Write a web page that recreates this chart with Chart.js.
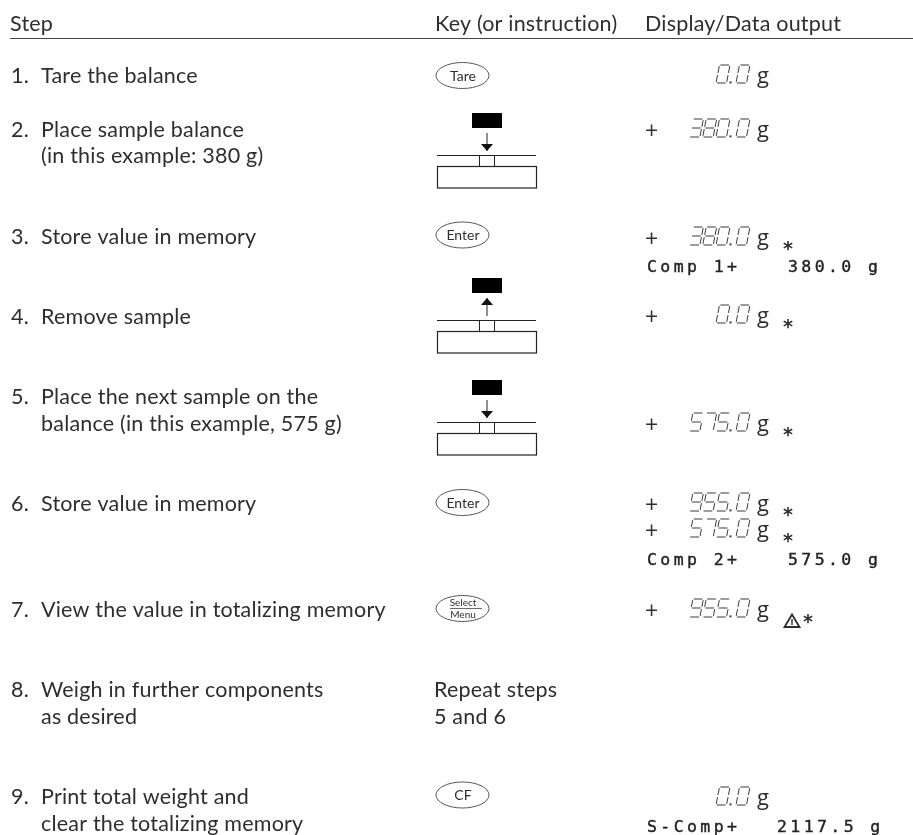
<!DOCTYPE html>
<html>
<head>
<meta charset="utf-8">
<title>Totalizing procedure</title>
<style>
  html, body { margin: 0; padding: 0; background: #fff; }
  canvas { display: block; }
</style>
<script src="https://cdn.jsdelivr.net/npm/chart.js@4"></script>
</head>
<body>
<canvas id="stepsChart" width="913" height="835"></canvas>
<script>
// table content
const headers = ['Step', 'Key (or instruction)', 'Display/Data output'];
const stepNumbers = ['1.', '2.', '3.', '4.', '5.', '6.', '7.', '8.', '9.'];
const stepLines = [
    ['Tare the balance'],
    ['Place sample balance', '(in this example: 380 g)'],
    ['Store value in memory'],
    ['Remove sample'],
    ['Place the next sample on the', 'balance (in this example, 575 g)'],
    ['Store value in memory'],
    ['View the value in totalizing memory'],
    ['Weigh in further components', 'as desired'],
    ['Print total weight and', 'clear the totalizing memory']
];
const keyLabels = ['Tare', 'Enter', 'Enter', 'CF'];
const menuKeyLabels = ['Select', 'Menu'];
const instructionLines = ['Repeat steps', '5 and 6'];
const displayValues = ['0.0', '380.0', '380.0', '0.0', '575.0', '955.0', '575.0', '955.0', '0.0'];
const displaySigns = ['', '+', '+', '+', '+', '+', '+', '+', ''];
const displayStars = [false, false, true, true, true, true, true, true, false];
const printLabels = ['Comp 1+', 'Comp 2+', 'S-Comp+'];
const printValues = ['380.0 g', '575.0 g', '2117.5 g'];

// layout, in picture pixels
const stepBaselines = [[83], [137, 163], [244], [324], [404, 431], [511], [617], [697, 724], [804, 831]];
const keyCentres = [75.5, 235, 502.5, 795];
const menuKeyCentre = 608.5;
const instructionBaselines = [697, 724];
const balanceTops = [113, 278, 380];
const balanceDirections = ['down', 'up', 'down'];
const displayBaselines = [83, 137, 245, 323, 431, 511, 537, 617, 805];
const printBaselines = [272, 565, 832];
const printValueX = [788, 788, 777];

const INK = '#2e2e2e';
const TEXT_FONT = '21.5px Lato';

// seven segment shapes, on a unit box
const segments = {
    a: [[0.08, 1], [0.92, 1]],
    b: [[1, 0.94], [1, 0.56]],
    c: [[1, 0.44], [1, 0.06]],
    d: [[0.08, 0], [0.92, 0]],
    e: [[0, 0.44], [0, 0.06]],
    f: [[0, 0.94], [0, 0.56]],
    g: [[0.08, 0.5], [0.92, 0.5]]
};
const digitSegments = {
    '0': 'abcdef', '1': 'bc', '2': 'abged', '3': 'abgcd', '4': 'fgbc',
    '5': 'afgcd', '6': 'afgedc', '7': 'abc', '8': 'abcdefg', '9': 'abcdfg'
};

function drawDisplayValue(ctx, text, rightX, base) {
    const w = 10.5, h = 18, slant = 3.5, pitch = 13.3, dotPitch = 6.7;
    let x = rightX - w - slant;
    ctx.strokeStyle = '#3a3a3a';
    ctx.fillStyle = '#3a3a3a';
    ctx.lineWidth = 1;
    for (let i = text.length - 1; i >= 0; i--) {
        const ch = text[i];
        if (ch === '.') {
            x -= dotPitch;
            ctx.fillRect(x + w + 3, base - 1.6, 2, 2);
            continue;
        }
        for (const s of digitSegments[ch]) {
            const [p, q] = segments[s];
            ctx.beginPath();
            ctx.moveTo(x + p[0] * w + p[1] * slant, base - p[1] * h);
            ctx.lineTo(x + q[0] * w + q[1] * slant, base - q[1] * h);
            ctx.stroke();
        }
        x -= pitch;
    }
}

function drawStar(ctx, cx, cy) {
    ctx.font = 'bold 19px "DejaVu Sans"';
    ctx.fillStyle = INK;
    ctx.textAlign = 'center';
    const m = ctx.measureText('*');
    const mid = (m.actualBoundingBoxAscent - m.actualBoundingBoxDescent) / 2;
    ctx.fillText('*', cx, cy + mid);
    ctx.textAlign = 'left';
}

function drawKey(ctx, cx, cy) {
    ctx.strokeStyle = '#444';
    ctx.lineWidth = 0.9;
    ctx.beginPath();
    ctx.ellipse(cx, cy, 26.5, 13, 0, 0, Math.PI * 2);
    ctx.stroke();
}

function drawBalance(ctx, px, py, top, dir) {
    const cx = px(487);
    ctx.fillStyle = '#000';
    ctx.fillRect(px(472), py(top), 30, 15);
    // arrow
    const a0 = dir === 'down' ? top + 20 : top + 38;
    const a1 = dir === 'down' ? top + 38 : top + 20;
    const head = dir === 'down' ? -7 : 7;
    ctx.strokeStyle = '#222';
    ctx.lineWidth = 1;
    ctx.beginPath();
    ctx.moveTo(cx, py(a0));
    ctx.lineTo(cx, py(a1));
    ctx.stroke();
    ctx.fillStyle = '#111';
    ctx.beginPath();
    ctx.moveTo(cx, py(a1));
    ctx.lineTo(cx - 6, py(a1 + head));
    ctx.lineTo(cx + 6, py(a1 + head));
    ctx.closePath();
    ctx.fill();
    // pan and body
    ctx.strokeStyle = '#222';
    ctx.beginPath();
    ctx.moveTo(px(437), py(top + 42.5));
    ctx.lineTo(px(536), py(top + 42.5));
    ctx.stroke();
    ctx.strokeRect(px(479.5), py(top + 42.5), 15, 11);
    ctx.lineWidth = 1.2;
    ctx.strokeRect(px(437.5), py(top + 53.5), 99, 21.5);
}

const tablePlugin = {
    id: 'tablePlugin',
    afterDatasetsDraw(chart) {
        const ctx = chart.ctx;
        const px = v => chart.scales.x.getPixelForValue(v);
        const py = v => chart.scales.y.getPixelForValue(v);
        ctx.save();
        ctx.textBaseline = 'alphabetic';
        ctx.textAlign = 'left';

        // header
        ctx.font = TEXT_FONT;
        ctx.letterSpacing = '0.2px';
        ctx.fillStyle = INK;
        ctx.fillText(headers[0], px(10), py(31));
        ctx.fillText(headers[1], px(435), py(31));
        ctx.fillText(headers[2], px(645), py(31));
        ctx.strokeStyle = '#444';
        ctx.lineWidth = 1.2;
        ctx.beginPath();
        ctx.moveTo(px(10), py(38.5));
        ctx.lineTo(px(913), py(38.5));
        ctx.stroke();

        // steps
        stepNumbers.forEach((num, i) => {
            ctx.fillText(num, px(11), py(stepBaselines[i][0]));
            stepLines[i].forEach((line, j) => {
                ctx.fillText(line, px(41), py(stepBaselines[i][j]));
            });
        });

        // instruction text
        instructionLines.forEach((line, i) => ctx.fillText(line, px(434), py(instructionBaselines[i])));
        ctx.letterSpacing = '0px';

        // keys
        keyLabels.forEach((label, i) => {
            drawKey(ctx, px(462.5), py(keyCentres[i]));
            ctx.font = '14px Lato';
            ctx.fillStyle = INK;
            ctx.textAlign = 'center';
            ctx.fillText(label, px(463), py(keyCentres[i] + 5));
            ctx.textAlign = 'left';
        });
        drawKey(ctx, px(462.5), py(menuKeyCentre));
        ctx.font = '10px Lato';
        ctx.fillStyle = INK;
        ctx.textAlign = 'center';
        ctx.fillText(menuKeyLabels[0], px(463), py(menuKeyCentre - 2.5));
        ctx.fillText(menuKeyLabels[1], px(463), py(menuKeyCentre + 9));
        ctx.textAlign = 'left';
        ctx.beginPath();
        ctx.lineWidth = 0.8;
        ctx.moveTo(px(450), py(menuKeyCentre));
        ctx.lineTo(px(482), py(menuKeyCentre));
        ctx.stroke();

        // balance sketches
        balanceTops.forEach((top, i) => drawBalance(ctx, px, py, top, balanceDirections[i]));

        // display column
        displayValues.forEach((val, i) => {
            const base = py(displayBaselines[i]);
            drawDisplayValue(ctx, val, px(750), base);
            ctx.font = '22px "Open Sans"';
            ctx.fillStyle = INK;
            ctx.fillText('g', px(757), base);
            if (displaySigns[i]) {
                ctx.font = '23px "Open Sans"';
                ctx.fillText(displaySigns[i], px(645), base + 2);
            }
            if (displayStars[i]) {
                if (i === 7) {
                    ctx.strokeStyle = INK;
                    ctx.lineWidth = 1.8;
                    ctx.beginPath();
                    ctx.moveTo(px(792), py(614.5));
                    ctx.lineTo(px(799.5), py(627));
                    ctx.lineTo(px(784.5), py(627));
                    ctx.closePath();
                    ctx.stroke();
                    ctx.fillStyle = INK;
                    ctx.fillRect(px(791.3), py(619), 1.4, 6);
                    drawStar(ctx, px(808), py(619));
                } else {
                    drawStar(ctx, px(788), py(displayBaselines[i] + 1.3));
                }
            }
        });

        // printer lines
        ctx.fillStyle = '#222';
        ctx.strokeStyle = '#222';
        ctx.lineWidth = 0.4;
        ctx.font = '16.5px "DejaVu Sans Mono"';
        ctx.letterSpacing = '3.4px';
        printLabels.forEach((label, i) => {
            const y = py(printBaselines[i]);
            ctx.fillText(label, px(647), y);
            ctx.strokeText(label, px(647), y);
            ctx.fillText(printValues[i], px(printValueX[i]), y);
            ctx.strokeText(printValues[i], px(printValueX[i]), y);
        });
        ctx.letterSpacing = '0px';
        ctx.restore();
    }
};

new Chart(document.getElementById('stepsChart'), {
    type: 'scatter',
    data: { datasets: [{ data: [] }] },
    options: {
        responsive: false,
        animation: false,
        layout: { padding: 0 },
        plugins: { legend: { display: false }, tooltip: { enabled: false } },
        scales: {
            x: { type: 'linear', min: 0, max: 913, display: false },
            y: { type: 'linear', min: 0, max: 835, reverse: true, display: false }
        }
    },
    plugins: [tablePlugin]
});
</script>
</body>
</html>
